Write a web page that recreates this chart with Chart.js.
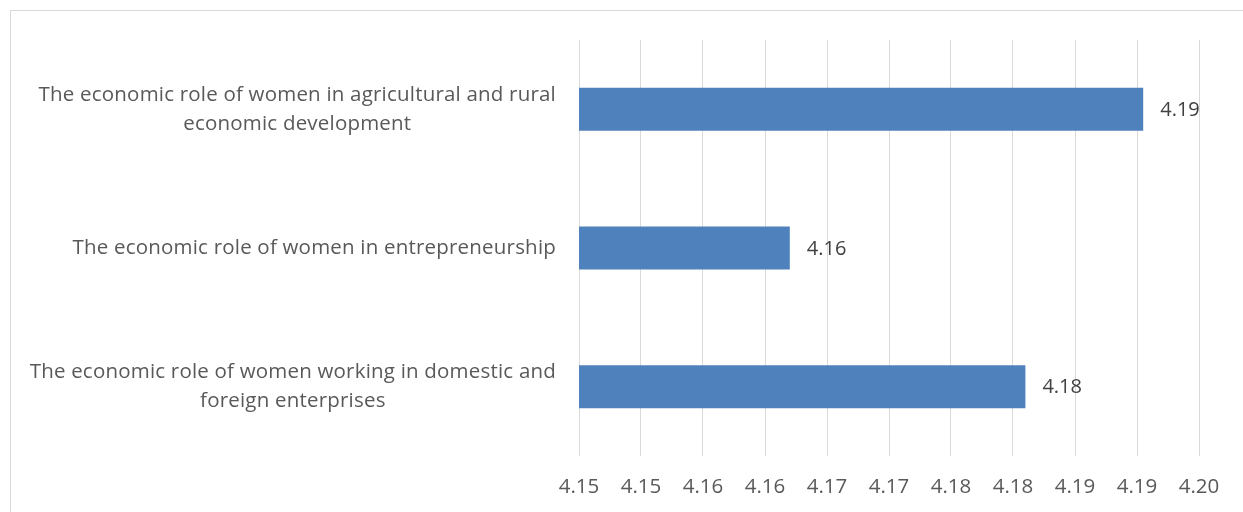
<!DOCTYPE html>
<html>
<head>
<meta charset="utf-8">
<script src="https://cdn.jsdelivr.net/npm/chart.js@4/dist/chart.umd.min.js"></script>
<style>
  html, body { margin: 0; padding: 0; background: #fff; }
  #wrap { position: relative; width: 1243px; height: 512px; overflow: hidden; }
  #frame { position: absolute; left: 10px; top: 10px; width: 1300px; height: 600px; border: 1px solid #d9d9d9; box-sizing: border-box; }
  #chart { position: absolute; left: 0; top: 0; }
</style>
</head>
<body>
<div id="wrap">
  <div id="frame"></div>
  <canvas id="chart" width="1243" height="512"></canvas>
</div>
<script>
// categories top to bottom, with the line breaks used on the axis
const categories = [
  ["The economic role of women in agricultural and rural", "economic development"],
  ["The economic role of women in entrepreneurship"],
  ["The economic role of women working in domestic and", "foreign enterprises"]
];
const scores = [4.1905, 4.162, 4.181];
const tickLabels = ["4.15", "4.15", "4.16", "4.16", "4.17", "4.17", "4.18", "4.18", "4.19", "4.19", "4.20"];
const axisMin = 4.145;
const axisMax = 4.195;
const axisStep = 0.005;

const FONT = "'Open Sans', sans-serif";
const FONT_SIZE = 20.5;

// value labels just past the end of each bar
const barLabels = {
  id: "barLabels",
  afterDatasetsDraw(chart) {
    const ctx = chart.ctx;
    const meta = chart.getDatasetMeta(0);
    ctx.save();
    ctx.font = "20px " + FONT;
    ctx.fillStyle = "#404040";
    ctx.textAlign = "left";
    ctx.textBaseline = "middle";
    meta.data.forEach((bar, i) => {
      ctx.fillText(scores[i].toFixed(2), bar.x + 17, bar.y + 1);
    });
    ctx.restore();
  }
};

// category labels: each block right-aligned to the axis, its lines centred on each other
const categoryLabels = {
  id: "categoryLabels",
  afterDraw(chart) {
    const ctx = chart.ctx;
    const yScale = chart.scales.y;
    const right = chart.chartArea.left - 23;
    const lineH = 29;
    ctx.save();
    ctx.font = FONT_SIZE + "px " + FONT;
    if ("letterSpacing" in ctx) ctx.letterSpacing = "0.2px";
    ctx.fillStyle = "#595959";
    ctx.textAlign = "center";
    ctx.textBaseline = "middle";
    categories.forEach((lines, i) => {
      const y = yScale.getPixelForTick(i);
      const widest = Math.max(...lines.map(l => ctx.measureText(l).width));
      const cx = right - widest / 2;
      const top = y - (lines.length - 1) * lineH / 2;
      lines.forEach((l, j) => ctx.fillText(l, cx, top + j * lineH));
    });
    ctx.restore();
  }
};

new Chart("chart", {
  type: "bar",
  data: {
    labels: categories,
    datasets: [{
      data: scores,
      backgroundColor: "#4f81bd",
      borderWidth: 0,
      categoryPercentage: 1,
      barPercentage: 0.31
    }]
  },
  options: {
    indexAxis: "y",
    responsive: false,
    animation: false,
    devicePixelRatio: 1,
    layout: { padding: { top: 40, right: 44, left: 0, bottom: 0 } },
    plugins: { legend: { display: false }, tooltip: { enabled: false } },
    scales: {
      x: {
        min: axisMin,
        max: axisMax,
        border: { display: false },
        grid: { color: "#d9d9d9", lineWidth: 1, drawTicks: false },
        ticks: {
          stepSize: axisStep,
          padding: 19,
          color: "#595959",
          font: { family: FONT, size: FONT_SIZE },
          maxRotation: 0,
          autoSkip: false,
          callback: (v, i) => tickLabels[i]
        },
        afterFit(scale) { scale.height = 56; }
      },
      y: {
        border: { display: false },
        grid: { display: false, drawTicks: false },
        ticks: { display: false },
        afterFit(scale) { scale.width = 579; }
      }
    }
  },
  plugins: [barLabels, categoryLabels]
});
</script>
</body>
</html>
